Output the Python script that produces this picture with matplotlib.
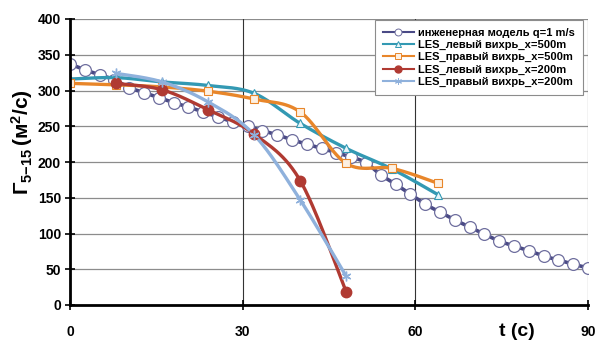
import numpy as np
import matplotlib
matplotlib.use("Agg")
import matplotlib.pyplot as plt
from matplotlib.lines import Line2D

plt.rcParams['font.family'] = ['Liberation Sans', 'DejaVu Sans']
plt.rcParams['font.weight'] = 'bold'
plt.rcParams['mathtext.fontset'] = 'custom'
plt.rcParams['mathtext.rm'] = 'Liberation Sans:bold'
plt.rcParams['mathtext.bf'] = 'Liberation Sans:bold'
plt.rcParams['mathtext.it'] = 'Liberation Sans:bold'

# ---------------- data ----------------
t_model = [0.0, 2.57, 5.14, 7.71, 10.29, 12.86, 15.43, 18.0, 20.57, 23.14,
           25.71, 28.29, 30.86, 33.43, 36.0, 38.57, 41.14, 43.71, 46.29, 48.86,
           51.43, 54.0, 56.57, 59.14, 61.71, 64.29, 66.86, 69.43, 72.0, 74.57,
           77.14, 79.71, 82.29, 84.86, 87.43, 90.0]
g_model = [337, 329, 322, 315, 304, 297, 290, 283, 277, 270,
           263, 256, 250, 244, 238, 231, 225, 219, 213, 207,
           199, 182, 169, 155, 141, 130, 119, 109, 99, 89.5,
           82.5, 76, 68.5, 63, 57, 52]

t_les500 = [0, 8, 16, 24, 32, 40, 48, 56, 64]
g_left500 = [316, 318, 312, 307, 296, 254, 219, 190, 154]
g_right500 = [310, 308, 305, 299, 288, 270, 198, 191, 170]

t_les200 = [8, 16, 24, 32, 40, 48]
g_left200 = [310, 301, 273, 239, 174, 18]
g_right200 = [324, 312, 284, 238, 147, 40]

labels = ["инженерная модель q=1 m/s", "LES_левый вихрь_x=500m",
          "LES_правый вихрь_x=500m", "LES_левый вихрь_x=200m",
          "LES_правый вихрь_x=200m"]
x_ticks = [0, 30, 60, 90]
y_ticks = [0, 50, 100, 150, 200, 250, 300, 350, 400]


def smooth(x, y, n=30):
    """Excel-like smoothed line (Catmull-Rom Bezier) through the points."""
    P = np.column_stack([x, y]).astype(float)
    m = len(P)
    out = []
    for i in range(m - 1):
        p0 = P[i - 1] if i > 0 else P[i]
        p1 = P[i]
        p2 = P[i + 1]
        p3 = P[i + 2] if i + 2 < m else P[i + 1]
        b1 = p1 + (p2 - p0) / 6.0
        b2 = p2 - (p3 - p1) / 6.0
        s = np.linspace(0, 1, n)[:, None]
        seg = ((1 - s) ** 3) * p1 + 3 * ((1 - s) ** 2) * s * b1 + 3 * (1 - s) * s ** 2 * b2 + s ** 3 * p2
        out.append(seg if i == 0 else seg[1:])
    c = np.vstack(out)
    return c[:, 0], c[:, 1]


c_model = '#4a4a86'
c_model_edge = '#6e6e9e'
c_teal = '#3399b3'
c_orange = '#e8862a'
c_red = '#b03a32'
c_lblue = '#8fb1dc'

fig = plt.figure(figsize=(5.99, 3.52), dpi=100)
ax = fig.add_axes([70 / 599, 1 - 305 / 352, 518 / 599, 286 / 352])

# grid
for yv in y_ticks[1:]:
    ax.axhline(yv, color='#8c8c8c', lw=0.9, zorder=0)
for xv in x_ticks[1:]:
    ax.axvline(xv, color='#333333', lw=0.8, zorder=0)

# model
xs, ys = smooth(t_model, g_model, 8)
ax.plot(xs, ys, color=c_model, lw=2.6, zorder=3, solid_capstyle='round')
ax.plot(t_model, g_model, ls='none', marker='o', ms=8.5, mfc='white',
        mec=c_model_edge, mew=0.9, zorder=4)

# LES 500
xs, ys = smooth(t_les500, g_left500)
ax.plot(xs, ys, color=c_teal, lw=2.4, zorder=5)
ax.plot(t_les500, g_left500, ls='none', marker='^', ms=6, mfc='#e6f4f8',
        mec=c_teal, mew=0.8, zorder=6)
xs, ys = smooth(t_les500, g_right500)
ax.plot(xs, ys, color=c_orange, lw=2.4, zorder=5)
ax.plot(t_les500, g_right500, ls='none', marker='s', ms=6, mfc='#fdf0e2',
        mec=c_orange, mew=0.8, zorder=6)

# LES 200
xs, ys = smooth(t_les200, g_left200)
ax.plot(xs, ys, color=c_red, lw=2.4, zorder=7)
ax.plot(t_les200, g_left200, ls='none', marker='o', ms=7.5, mfc=c_red,
        mec=c_red, zorder=8)
xs, ys = smooth(t_les200, g_right200)
ax.plot(xs, ys, color=c_lblue, lw=2.4, zorder=7)
ax.plot(t_les200, g_right200, ls='none', marker=(6, 2, 0), ms=7,
        mec=c_lblue, mew=1.0, zorder=8)

ax.set_xlim(0, 90)
ax.set_ylim(0, 400)
ax.set_xticks(x_ticks)
ax.set_yticks(y_ticks)
ax.set_xticklabels([str(v) for v in x_ticks], fontsize=10, fontweight='bold')
ax.set_yticklabels([str(v) for v in y_ticks], fontsize=10, fontweight='bold')
ax.tick_params(axis='both', direction='inout', length=7, width=1.2, color='black')
ax.tick_params(axis='x', pad=11)
ax.tick_params(axis='y', pad=3)
for s in ['top', 'right']:
    ax.spines[s].set_visible(False)
for s in ['left', 'bottom']:
    ax.spines[s].set_linewidth(2.0)
    ax.spines[s].set_zorder(10)
ax.set_clip_on(False)

# labels
fig.text(517 / 599, 1 - 331 / 352, 't (c)', fontsize=14, fontweight='bold',
         ha='center', va='center')
fig.text(22 / 599, 1 - 142 / 352, r'$\Gamma_{5\mathrm{-}15}\,(\mathrm{м}^2/\mathrm{с})$',
         fontsize=15, rotation=90, ha='center', va='center')

# legend
handles = [
    Line2D([], [], color=c_model, lw=1.5, marker='o', ms=5, mfc='white', mec=c_model_edge, mew=0.7),
    Line2D([], [], color=c_teal, lw=1.5, marker='^', ms=4, mfc='#e6f4f8', mec=c_teal, mew=0.7),
    Line2D([], [], color=c_orange, lw=1.5, marker='s', ms=4.5, mfc='#fdf0e2', mec=c_orange, mew=0.7),
    Line2D([], [], color=c_red, lw=1.5, marker='o', ms=5, mfc=c_red, mec=c_red),
    Line2D([], [], color=c_lblue, lw=1.5, marker=(6, 2, 0), ms=5, mec=c_lblue, mew=0.7),
]
leg = fig.legend(handles, labels, loc='upper right',
                 bbox_to_anchor=(583 / 599, 1 - 20 / 352),
                 prop={'family': 'Liberation Sans', 'weight': 'bold', 'size': 8},
                 frameon=True, fancybox=False, edgecolor='#8c8c8c', framealpha=1,
                 handlelength=2.8, handletextpad=0.4, labelspacing=0.2,
                 borderpad=0.7, borderaxespad=0)
leg.get_frame().set_linewidth(0.8)
leg.set_zorder(20)

fig.savefig('out.png', dpi=100)
